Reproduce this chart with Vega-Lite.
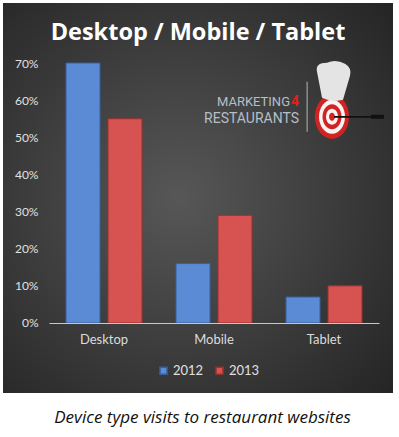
{
  "$schema": "https://vega.github.io/schema/vega-lite/v6.json",
  "width": 390,
  "height": 390,
  "padding": {"left": 3, "top": 3, "right": 6, "bottom": 4},
  "background": "white",
  "config": {"view": {"stroke": null, "fill": "#3a3a3a"}, "font": "Lato"},
  "title": {"text": "Desktop / Mobile / Tablet", "color": "white", "fontSize": 23.5, "font": "Open Sans", "fontWeight": "bold", "anchor": "middle", "frame": "group", "offset": -41},
  "datasets": {
    "visits": [
      {"device": "Desktop", "year": "2012", "share": 0.70},
      {"device": "Desktop", "year": "2013", "share": 0.55},
      {"device": "Mobile", "year": "2012", "share": 0.16},
      {"device": "Mobile", "year": "2013", "share": 0.29},
      {"device": "Tablet", "year": "2012", "share": 0.07},
      {"device": "Tablet", "year": "2013", "share": 0.10}
    ],
    "one": [{"k": 1}]
  },
  "layer": [
    {
      "data": {"name": "one"},
      "mark": {"type": "rect", "fill": {"gradient": "radial", "x1": 0.45, "y1": 0.5, "r1": 0, "x2": 0.45, "y2": 0.5, "r2": 0.75, "stops": [{"offset": 0, "color": "#575757"}, {"offset": 1, "color": "#242424"}]}},
      "encoding": {}
    },
    {
      "data": {"name": "visits"},
      "mark": {"type": "bar", "strokeWidth": 1},
      "encoding": {
        "x": {
          "field": "device", "type": "nominal", "sort": ["Desktop", "Mobile", "Tablet"],
          "scale": {"range": [46, 376], "paddingInner": 0.309, "paddingOuter": 0.1545},
          "axis": {
            "zindex": 1, "offset": -70, "ticks": false, "labelAngle": 0, "labelPadding": 10,
            "labelColor": "#dcdcdc", "labelFontSize": 13, "labelFont": "Lato",
            "domainColor": "#c8c8c8", "domainWidth": 1,
            "title": "Device type visits to restaurant websites",
            "titleFont": "Open Sans", "titleFontStyle": "italic", "titleFontWeight": "normal",
            "titleFontSize": 17, "titleColor": "#111111", "titlePadding": 63, "titleX": 199
          }
        },
        "xOffset": {"field": "year", "type": "nominal", "scale": {"paddingInner": 0.19, "paddingOuter": 0}},
        "y": {
          "field": "share", "type": "quantitative",
          "scale": {"domain": [-0.1885, 0.8616], "nice": false, "zero": false},
          "axis": {
            "zindex": 1, "offset": -43, "values": [0, 0.1, 0.2, 0.3, 0.4, 0.5, 0.6, 0.7], "format": ".0%",
            "ticks": false, "domain": false, "grid": false, "labelPadding": 8,
            "labelColor": "#e0e0e0", "labelFontSize": 12, "labelFont": "Lato", "title": null
          }
        },
        "y2": {"datum": 0},
        "color": {
          "field": "year", "type": "nominal",
          "scale": {"domain": ["2012", "2013"], "range": ["#5b8bd4", "#d65351"]},
          "legend": {
            "orient": "none", "legendX": 154, "legendY": 361, "direction": "horizontal",
            "title": null, "symbolType": "square", "symbolSize": 49, "labelColor": "#e0e0e0",
            "labelFontSize": 13, "labelFont": "Lato", "columnPadding": 9, "labelOffset": 3
          }
        },
        "stroke": {
          "field": "year", "type": "nominal",
          "scale": {"domain": ["2012", "2013"], "range": ["#36609e", "#983230"]},
          "legend": null
        }
      }
    },
    {
      "data": {"name": "one"},
      "mark": {"type": "point", "filled": true, "opacity": 1, "size": 400, "color": "#9a9a9a", "shape": "M -1.75 -3.5 L -1.62 -3.5 L -1.62 1.5 L -1.75 1.5 Z"},
      "encoding": {"x": {"datum": "Tablet"}, "y": {"datum": 0.555}}
    },
    {
      "data": {"name": "one"},
      "mark": {"type": "point", "filled": true, "opacity": 1, "size": 400, "color": "#d42222", "shape": "M -0.9 0 A 1.7 2.2 0 1 0 2.5 0 A 1.7 2.2 0 1 0 -0.9 0 Z"},
      "encoding": {"x": {"datum": "Tablet"}, "y": {"datum": 0.555}}
    },
    {
      "data": {"name": "one"},
      "mark": {"type": "point", "filled": true, "opacity": 1, "size": 400, "color": "#f4f4f4", "shape": "M -0.5 0 A 1.3 1.7 0 1 0 2.1 0 A 1.3 1.7 0 1 0 -0.5 0 Z"},
      "encoding": {"x": {"datum": "Tablet"}, "y": {"datum": 0.555}}
    },
    {
      "data": {"name": "one"},
      "mark": {"type": "point", "filled": true, "opacity": 1, "size": 400, "color": "#d42222", "shape": "M -0.15 0 A 0.95 1.25 0 1 0 1.75 0 A 0.95 1.25 0 1 0 -0.15 0 Z"},
      "encoding": {"x": {"datum": "Tablet"}, "y": {"datum": 0.555}}
    },
    {
      "data": {"name": "one"},
      "mark": {"type": "point", "filled": true, "opacity": 1, "size": 400, "color": "#f4f4f4", "shape": "M 0.2 0 A 0.6 0.8 0 1 0 1.4 0 A 0.6 0.8 0 1 0 0.2 0 Z"},
      "encoding": {"x": {"datum": "Tablet"}, "y": {"datum": 0.555}}
    },
    {
      "data": {"name": "one"},
      "mark": {"type": "point", "filled": true, "opacity": 1, "size": 400, "color": "#d42222", "shape": "M 0.5 0 A 0.3 0.4 0 1 0 1.1 0 A 0.3 0.4 0 1 0 0.5 0 Z"},
      "encoding": {"x": {"datum": "Tablet"}, "y": {"datum": 0.555}}
    },
    {
      "data": {"name": "one"},
      "mark": {"type": "point", "filled": true, "opacity": 1, "size": 400, "color": "#111111", "shape": "M 1.0 -0.08 L 4.7 -0.08 L 4.7 -0.2 L 6.0 -0.2 L 6.0 0.2 L 4.7 0.2 L 4.7 0.08 L 1.0 0.08 Z"},
      "encoding": {"x": {"datum": "Tablet"}, "y": {"datum": 0.555}}
    },
    {
      "data": {"name": "one"},
      "mark": {"type": "point", "filled": true, "opacity": 1, "size": 400, "color": "#e4e4e4", "shape": "M -0.2 -1.9 L -0.7 -4.5 Q -0.9 -5.4 0.3 -5.4 Q 1.2 -5.8 2.1 -5.3 Q 2.8 -4.9 2.6 -4.1 L 1.9 -1.7 Q 0.8 -1.4 -0.2 -1.9 Z"},
      "encoding": {"x": {"datum": "Tablet"}, "y": {"datum": 0.555}}
    },
    {
      "data": {"name": "one"},
      "mark": {"type": "text", "text": "MARKETING", "align": "right", "baseline": "middle", "dx": -34, "font": "Roboto", "fontSize": 13, "color": "#b4bfc8"},
      "encoding": {"x": {"datum": "Tablet"}, "y": {"datum": 0.595}}
    },
    {
      "data": {"name": "one"},
      "mark": {"type": "text", "text": "4", "align": "right", "baseline": "middle", "dx": -25, "font": "Roboto", "fontWeight": "bold", "fontSize": 14, "color": "#e01f1f"},
      "encoding": {"x": {"datum": "Tablet"}, "y": {"datum": 0.595}}
    },
    {
      "data": {"name": "one"},
      "mark": {"type": "text", "text": "RESTAURANTS", "align": "right", "baseline": "middle", "dx": -25, "font": "Roboto", "fontSize": 14, "color": "#b4bfc8"},
      "encoding": {"x": {"datum": "Tablet"}, "y": {"datum": 0.55}}
    }
  ]
}
